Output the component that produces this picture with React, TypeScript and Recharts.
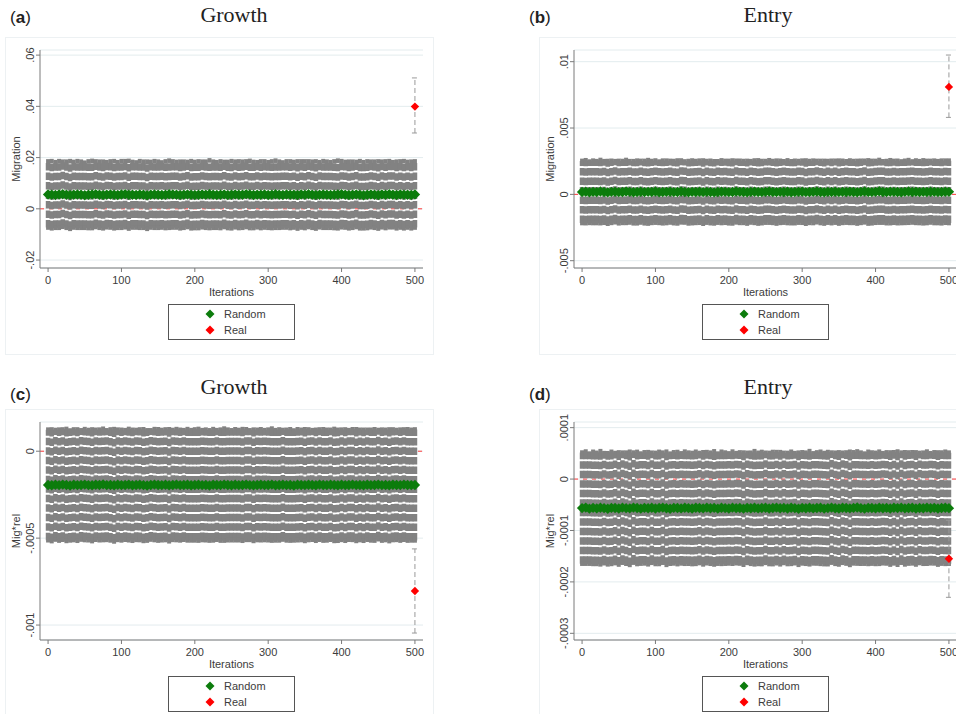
import React from 'react';
import {
  ScatterChart,
  Scatter,
  ErrorBar,
  XAxis,
  YAxis,
  CartesianGrid,
  ReferenceLine,
  Legend,
  Label
} from 'recharts';

// iterations are sampled every 5 draws (501 draws in the original)
const iterations = [
  0, 5, 10, 15, 20, 25, 30, 35, 40, 45, 50, 55, 60, 65, 70, 75, 80, 85, 90, 95,
  100, 105, 110, 115, 120, 125, 130, 135, 140, 145, 150, 155, 160, 165, 170, 175, 180, 185, 190, 195,
  200, 205, 210, 215, 220, 225, 230, 235, 240, 245, 250, 255, 260, 265, 270, 275, 280, 285, 290, 295,
  300, 305, 310, 315, 320, 325, 330, 335, 340, 345, 350, 355, 360, 365, 370, 375, 380, 385, 390, 395,
  400, 405, 410, 415, 420, 425, 430, 435, 440, 445, 450, 455, 460, 465, 470, 475, 480, 485, 490, 495,
  500
];

// (a) Growth - Migration
const growthMigMean = [
  5.6e-3, 5.5e-3, 5.4e-3, 5.6e-3, 5.7e-3, 5.5e-3, 5.4e-3, 5.5e-3, 5.6e-3, 5.5e-3,
  5.3e-3, 5.5e-3, 5.6e-3, 5.7e-3, 5.5e-3, 5.4e-3, 5.5e-3, 5.6e-3, 5.5e-3, 5.4e-3,
  5.6e-3, 5.7e-3, 5.5e-3, 5.5e-3, 5.4e-3, 5.6e-3, 5.5e-3, 5.3e-3, 5.5e-3, 5.6e-3,
  5.5e-3, 5.4e-3, 5.5e-3, 5.7e-3, 5.6e-3, 5.5e-3, 5.4e-3, 5.5e-3, 5.6e-3, 5.5e-3,
  5.4e-3, 5.5e-3, 5.6e-3, 5.5e-3, 5.7e-3, 5.5e-3, 5.4e-3, 5.5e-3, 5.6e-3, 5.4e-3,
  5.5e-3, 5.6e-3, 5.5e-3, 5.5e-3, 5.7e-3, 5.6e-3, 5.4e-3, 5.5e-3, 5.5e-3, 5.6e-3,
  5.4e-3, 5.5e-3, 5.7e-3, 5.5e-3, 5.4e-3, 5.6e-3, 5.5e-3, 5.5e-3, 5.4e-3, 5.6e-3,
  5.5e-3, 5.7e-3, 5.5e-3, 5.4e-3, 5.5e-3, 5.6e-3, 5.5e-3, 5.4e-3, 5.5e-3, 5.6e-3,
  5.7e-3, 5.5e-3, 5.4e-3, 5.5e-3, 5.6e-3, 5.5e-3, 5.3e-3, 5.5e-3, 5.6e-3, 5.5e-3,
  5.4e-3, 5.6e-3, 5.5e-3, 5.7e-3, 5.5e-3, 5.4e-3, 5.6e-3, 5.5e-3, 5.5e-3, 5.4e-3,
  5.6e-3
];
const growthMigHalf = [
  1.29e-2, 1.31e-2, 1.28e-2, 1.30e-2, 1.27e-2, 1.29e-2, 1.32e-2, 1.28e-2, 1.30e-2, 1.29e-2,
  1.27e-2, 1.30e-2, 1.31e-2, 1.28e-2, 1.29e-2, 1.30e-2, 1.27e-2, 1.29e-2, 1.31e-2, 1.28e-2,
  1.30e-2, 1.29e-2, 1.32e-2, 1.28e-2, 1.27e-2, 1.30e-2, 1.29e-2, 1.31e-2, 1.28e-2, 1.30e-2,
  1.29e-2, 1.27e-2, 1.30e-2, 1.31e-2, 1.29e-2, 1.28e-2, 1.30e-2, 1.29e-2, 1.27e-2, 1.31e-2,
  1.29e-2, 1.30e-2, 1.28e-2, 1.29e-2, 1.32e-2, 1.29e-2, 1.28e-2, 1.30e-2, 1.27e-2, 1.29e-2,
  1.31e-2, 1.28e-2, 1.30e-2, 1.29e-2, 1.28e-2, 1.31e-2, 1.29e-2, 1.27e-2, 1.30e-2, 1.29e-2,
  1.28e-2, 1.30e-2, 1.31e-2, 1.29e-2, 1.27e-2, 1.29e-2, 1.30e-2, 1.28e-2, 1.31e-2, 1.29e-2,
  1.30e-2, 1.28e-2, 1.29e-2, 1.31e-2, 1.27e-2, 1.30e-2, 1.29e-2, 1.28e-2, 1.30e-2, 1.32e-2,
  1.29e-2, 1.28e-2, 1.30e-2, 1.29e-2, 1.27e-2, 1.31e-2, 1.29e-2, 1.30e-2, 1.28e-2, 1.29e-2,
  1.31e-2, 1.28e-2, 1.30e-2, 1.29e-2, 1.27e-2, 1.30e-2, 1.29e-2, 1.31e-2, 1.28e-2, 1.30e-2,
  1.29e-2
];
const growthMigReal = 0.0399;
const growthMigRealErr = [0.0103, 0.0112];
const growthMigTicks = [-0.02, 0, 0.02, 0.04, 0.06];
const growthMigTickLabels = ['-.02', '0', '.02', '.04', '.06'];

// (b) Entry - Migration
const entryMigMean = [
  1.8e-4, 2.0e-4, 1.6e-4, 1.9e-4, 1.7e-4, 2.1e-4, 1.8e-4, 1.5e-4, 1.9e-4, 2.0e-4,
  1.7e-4, 1.8e-4, 2.2e-4, 1.9e-4, 1.6e-4, 1.8e-4, 2.0e-4, 1.7e-4, 1.9e-4, 1.8e-4,
  2.1e-4, 1.6e-4, 1.8e-4, 1.9e-4, 2.0e-4, 1.7e-4, 1.8e-4, 2.2e-4, 1.8e-4, 1.6e-4,
  1.9e-4, 1.8e-4, 2.0e-4, 1.7e-4, 1.9e-4, 1.8e-4, 1.5e-4, 1.8e-4, 2.0e-4, 1.9e-4,
  1.7e-4, 1.8e-4, 2.1e-4, 1.9e-4, 1.8e-4, 1.6e-4, 1.9e-4, 2.0e-4, 1.8e-4, 1.7e-4,
  1.9e-4, 2.2e-4, 1.8e-4, 1.7e-4, 1.9e-4, 1.8e-4, 2.0e-4, 1.6e-4, 1.8e-4, 1.9e-4,
  2.0e-4, 1.7e-4, 1.8e-4, 1.9e-4, 2.1e-4, 1.8e-4, 1.6e-4, 1.9e-4, 1.8e-4, 2.0e-4,
  1.7e-4, 1.9e-4, 1.8e-4, 2.0e-4, 1.8e-4, 1.6e-4, 1.9e-4, 2.1e-4, 1.8e-4, 1.7e-4,
  1.9e-4, 2.3e-4, 1.8e-4, 1.7e-4, 2.0e-4, 1.9e-4, 1.8e-4, 1.6e-4, 1.9e-4, 2.2e-4,
  1.8e-4, 2.0e-4, 1.7e-4, 1.9e-4, 1.8e-4, 2.0e-4, 1.9e-4, 1.7e-4, 1.8e-4, 2.0e-4,
  1.9e-4
];
const entryMigHalf = [
  2.34e-3, 2.37e-3, 2.31e-3, 2.35e-3, 2.33e-3, 2.38e-3, 2.32e-3, 2.36e-3, 2.34e-3, 2.30e-3,
  2.35e-3, 2.33e-3, 2.37e-3, 2.31e-3, 2.34e-3, 2.36e-3, 2.32e-3, 2.35e-3, 2.39e-3, 2.33e-3,
  2.34e-3, 2.31e-3, 2.36e-3, 2.35e-3, 2.32e-3, 2.34e-3, 2.37e-3, 2.33e-3, 2.30e-3, 2.35e-3,
  2.36e-3, 2.33e-3, 2.34e-3, 2.38e-3, 2.32e-3, 2.35e-3, 2.34e-3, 2.31e-3, 2.36e-3, 2.33e-3,
  2.35e-3, 2.37e-3, 2.32e-3, 2.34e-3, 2.33e-3, 2.36e-3, 2.31e-3, 2.35e-3, 2.38e-3, 2.34e-3,
  2.32e-3, 2.35e-3, 2.33e-3, 2.37e-3, 2.34e-3, 2.31e-3, 2.36e-3, 2.33e-3, 2.35e-3, 2.32e-3,
  2.34e-3, 2.38e-3, 2.33e-3, 2.35e-3, 2.31e-3, 2.34e-3, 2.36e-3, 2.32e-3, 2.35e-3, 2.33e-3,
  2.37e-3, 2.34e-3, 2.31e-3, 2.35e-3, 2.33e-3, 2.36e-3, 2.34e-3, 2.32e-3, 2.38e-3, 2.35e-3,
  2.33e-3, 2.36e-3, 2.31e-3, 2.34e-3, 2.37e-3, 2.33e-3, 2.35e-3, 2.32e-3, 2.34e-3, 2.36e-3,
  2.30e-3, 2.35e-3, 2.33e-3, 2.37e-3, 2.34e-3, 2.32e-3, 2.35e-3, 2.33e-3, 2.36e-3, 2.34e-3,
  2.35e-3
];
const entryMigReal = 0.0081;
const entryMigRealErr = [0.0023, 0.0024];
const entryMigTicks = [-0.005, 0, 0.005, 0.01];
const entryMigTickLabels = ['-.005', '0', '.005', '.01'];

// (c) Growth - Mig*rel
const growthRelMean = [
  -1.94e-4, -1.96e-4, -1.93e-4, -1.95e-4, -1.92e-4, -1.94e-4, -1.97e-4, -1.93e-4, -1.95e-4, -1.94e-4,
  -1.92e-4, -1.95e-4, -1.96e-4, -1.93e-4, -1.94e-4, -1.91e-4, -1.95e-4, -1.94e-4, -1.96e-4, -1.93e-4,
  -1.95e-4, -1.94e-4, -1.92e-4, -1.96e-4, -1.94e-4, -1.93e-4, -1.95e-4, -1.97e-4, -1.94e-4, -1.92e-4,
  -1.94e-4, -1.95e-4, -1.93e-4, -1.96e-4, -1.94e-4, -1.92e-4, -1.95e-4, -1.94e-4, -1.93e-4, -1.96e-4,
  -1.94e-4, -1.93e-4, -1.95e-4, -1.94e-4, -1.97e-4, -1.93e-4, -1.94e-4, -1.95e-4, -1.92e-4, -1.94e-4,
  -1.96e-4, -1.93e-4, -1.95e-4, -1.94e-4, -1.92e-4, -1.95e-4, -1.96e-4, -1.94e-4, -1.93e-4, -1.95e-4,
  -1.94e-4, -1.92e-4, -1.96e-4, -1.94e-4, -1.93e-4, -1.95e-4, -1.94e-4, -1.97e-4, -1.93e-4, -1.94e-4,
  -1.95e-4, -1.93e-4, -1.94e-4, -1.96e-4, -1.92e-4, -1.94e-4, -1.95e-4, -1.93e-4, -1.94e-4, -1.96e-4,
  -1.93e-4, -1.95e-4, -1.94e-4, -1.92e-4, -1.95e-4, -1.94e-4, -1.96e-4, -1.93e-4, -1.95e-4, -1.94e-4,
  -1.92e-4, -1.95e-4, -1.94e-4, -1.96e-4, -1.93e-4, -1.94e-4, -1.95e-4, -1.92e-4, -1.94e-4, -1.95e-4,
  -1.94e-4
];
const growthRelHalf = [
  3.18e-4, 3.21e-4, 3.15e-4, 3.19e-4, 3.17e-4, 3.22e-4, 3.16e-4, 3.18e-4, 3.20e-4, 3.14e-4,
  3.19e-4, 3.17e-4, 3.21e-4, 3.16e-4, 3.18e-4, 3.20e-4, 3.15e-4, 3.19e-4, 3.23e-4, 3.17e-4,
  3.18e-4, 3.15e-4, 3.20e-4, 3.19e-4, 3.16e-4, 3.18e-4, 3.21e-4, 3.17e-4, 3.14e-4, 3.19e-4,
  3.20e-4, 3.17e-4, 3.18e-4, 3.22e-4, 3.16e-4, 3.19e-4, 3.18e-4, 3.15e-4, 3.20e-4, 3.17e-4,
  3.19e-4, 3.21e-4, 3.16e-4, 3.18e-4, 3.17e-4, 3.20e-4, 3.15e-4, 3.19e-4, 3.22e-4, 3.18e-4,
  3.16e-4, 3.19e-4, 3.17e-4, 3.21e-4, 3.18e-4, 3.15e-4, 3.20e-4, 3.17e-4, 3.19e-4, 3.16e-4,
  3.18e-4, 3.22e-4, 3.17e-4, 3.19e-4, 3.15e-4, 3.18e-4, 3.20e-4, 3.16e-4, 3.19e-4, 3.17e-4,
  3.21e-4, 3.18e-4, 3.15e-4, 3.19e-4, 3.17e-4, 3.20e-4, 3.18e-4, 3.16e-4, 3.22e-4, 3.19e-4,
  3.17e-4, 3.20e-4, 3.15e-4, 3.18e-4, 3.21e-4, 3.17e-4, 3.19e-4, 3.16e-4, 3.18e-4, 3.20e-4,
  3.14e-4, 3.19e-4, 3.17e-4, 3.21e-4, 3.18e-4, 3.16e-4, 3.19e-4, 3.17e-4, 3.20e-4, 3.18e-4,
  3.19e-4
];
const growthRelReal = -0.000804;
const growthRelRealErr = [0.000242, 0.000242];
const growthRelTicks = [-0.001, -0.0005, 0];
const growthRelTickLabels = ['-.001', '-.0005', '0'];

// (d) Entry - Mig*rel
const entryRelMean = [
  -5.65e-5, -5.55e-5, -5.75e-5, -5.60e-5, -5.70e-5, -5.58e-5, -5.66e-5, -5.78e-5, -5.60e-5, -5.64e-5,
  -5.72e-5, -5.56e-5, -5.66e-5, -5.69e-5, -5.55e-5, -5.62e-5, -5.74e-5, -5.60e-5, -5.67e-5, -5.58e-5,
  -5.71e-5, -5.61e-5, -5.56e-5, -5.68e-5, -5.76e-5, -5.60e-5, -5.64e-5, -5.70e-5, -5.57e-5, -5.66e-5,
  -5.73e-5, -5.59e-5, -5.63e-5, -5.69e-5, -5.56e-5, -5.67e-5, -5.61e-5, -5.75e-5, -5.59e-5, -5.65e-5,
  -5.71e-5, -5.56e-5, -5.66e-5, -5.62e-5, -5.75e-5, -5.60e-5, -5.68e-5, -5.58e-5, -5.70e-5, -5.63e-5,
  -5.59e-5, -5.72e-5, -5.64e-5, -5.56e-5, -5.67e-5, -5.61e-5, -5.72e-5, -5.59e-5, -5.66e-5, -5.77e-5,
  -5.60e-5, -5.67e-5, -5.57e-5, -5.70e-5, -5.62e-5, -5.59e-5, -5.74e-5, -5.65e-5, -5.55e-5, -5.68e-5,
  -5.71e-5, -5.58e-5, -5.63e-5, -5.69e-5, -5.60e-5, -5.53e-5, -5.66e-5, -5.75e-5, -5.60e-5, -5.64e-5,
  -5.70e-5, -5.58e-5, -5.67e-5, -5.61e-5, -5.73e-5, -5.59e-5, -5.65e-5, -5.56e-5, -5.69e-5, -5.63e-5,
  -5.59e-5, -5.71e-5, -5.62e-5, -5.67e-5, -5.56e-5, -5.68e-5, -5.60e-5, -5.73e-5, -5.64e-5, -5.59e-5,
  -5.66e-5
];
const entryRelHalf = [
  1.08e-4, 1.09e-4, 1.07e-4, 1.09e-4, 1.08e-4, 1.10e-4, 1.07e-4, 1.08e-4, 1.09e-4, 1.07e-4,
  1.09e-4, 1.07e-4, 1.08e-4, 1.10e-4, 1.07e-4, 1.09e-4, 1.07e-4, 1.08e-4, 1.09e-4, 1.07e-4,
  1.08e-4, 1.09e-4, 1.07e-4, 1.10e-4, 1.07e-4, 1.08e-4, 1.09e-4, 1.07e-4, 1.09e-4, 1.08e-4,
  1.08e-4, 1.09e-4, 1.07e-4, 1.09e-4, 1.08e-4, 1.08e-4, 1.10e-4, 1.07e-4, 1.09e-4, 1.08e-4,
  1.07e-4, 1.09e-4, 1.07e-4, 1.08e-4, 1.09e-4, 1.07e-4, 1.08e-4, 1.10e-4, 1.08e-4, 1.09e-4,
  1.07e-4, 1.08e-4, 1.09e-4, 1.08e-4, 1.09e-4, 1.07e-4, 1.08e-4, 1.09e-4, 1.07e-4, 1.09e-4,
  1.08e-4, 1.08e-4, 1.10e-4, 1.07e-4, 1.08e-4, 1.09e-4, 1.08e-4, 1.09e-4, 1.07e-4, 1.08e-4,
  1.09e-4, 1.07e-4, 1.08e-4, 1.10e-4, 1.08e-4, 1.09e-4, 1.08e-4, 1.07e-4, 1.09e-4, 1.08e-4,
  1.08e-4, 1.09e-4, 1.07e-4, 1.08e-4, 1.09e-4, 1.08e-4, 1.10e-4, 1.07e-4, 1.09e-4, 1.08e-4,
  1.08e-4, 1.09e-4, 1.07e-4, 1.08e-4, 1.09e-4, 1.07e-4, 1.08e-4, 1.09e-4, 1.08e-4, 1.09e-4,
  1.08e-4
];
const entryRelReal = -0.000155;
const entryRelRealErr = [0.000075, 0.000075];
const entryRelTicks = [-0.0003, -0.0002, -0.0001, 0, 0.0001];
const entryRelTickLabels = ['-.0003', '-.0002', '-.0001', '0', '.0001'];

const realIteration = 500;
const xTicks = [0, 100, 200, 300, 400, 500];
const legendNames = ['Random', 'Real'];

const GREEN = '#0c7c0c';
const RED = '#ff0000';
const GRAY = '#828282';
const AXIS = '#7a7a7a';
const TEXT = '#3c3c3c';
const SANS = '"Liberation Sans", Arial, sans-serif';

const diamond = (color: string, r: number) => (props: any) => {
  const { cx, cy } = props;
  return <path d={`M${cx} ${cy - r}L${cx + r} ${cy}L${cx} ${cy + r}L${cx - r} ${cy}Z`} fill={color} />;
};

const renderLegend = () => {
  const colors = [GREEN, RED];
  return (
    <div style={{ position: 'relative', width: 127, height: 36, boxSizing: 'border-box', border: '1px solid #555', background: '#fff', fontSize: 11, color: TEXT, fontFamily: SANS }}>
      {legendNames.map((name, i) => (
        <div key={name} style={{ position: 'absolute', left: 35, top: 2 + i * 16, height: 14, display: 'flex', alignItems: 'center' }}>
          <svg width={12} height={12}>
            <path d="M6 1.5L10.5 6L6 10.5L1.5 6Z" fill={colors[i]} />
          </svg>
          <span style={{ marginLeft: 8 }}>{name}</span>
        </div>
      ))}
    </div>
  );
};

interface PanelProps {
  letter: string;
  title: string;
  yLabel: string;
  left: number;
  top: number;
  labelLeft: number;
  labelTop: number;
  mean: number[];
  half: number[];
  real: number;
  realErr: number[];
  domain: [number, number];
  ticks: number[];
  tickLabels: string[];
}

const Panel = (p: PanelProps) => {
  const randomRows = iterations.map((it, i) => ({ it, y: p.mean[i], err: p.half[i] }));
  const realRows = [{ it: realIteration, y: p.real, err: p.realErr }];

  const rotatedTick = (props: any) => {
    const { x, y, payload } = props;
    const label = p.tickLabels[p.ticks.indexOf(payload.value)];
    return (
      <text x={x} y={y} transform={`rotate(-90 ${x} ${y})`} textAnchor="middle" fontSize={11} fill={TEXT}>
        {label}
      </text>
    );
  };

  const yTitle = (props: any) => {
    const vb = props.viewBox;
    const x = vb.x + 20;
    const y = vb.y + vb.height / 2;
    return (
      <text x={x} y={y} transform={`rotate(-90 ${x} ${y})`} textAnchor="middle" fontSize={11} fill={TEXT}>
        {p.yLabel}
      </text>
    );
  };

  return (
    <div style={{ position: 'absolute', left: p.left, top: p.top, width: 470, height: 360 }}>
      <div style={{ position: 'absolute', left: 5, top: 37, width: 427, height: 316, border: '1px solid #edf1f3' }} />
      <div style={{ position: 'absolute', left: p.labelLeft, top: p.labelTop, fontFamily: SANS, fontSize: 17, lineHeight: '18px', color: '#222' }}>
        (<b>{p.letter}</b>)
      </div>
      <div style={{ position: 'absolute', left: 0, top: 3, width: 468, textAlign: 'center', fontFamily: '"Liberation Serif", "Times New Roman", serif', fontSize: 22, lineHeight: '24px', color: '#222' }}>
        {p.title}
      </div>
      <div style={{ position: 'absolute', left: 0, top: 37, fontFamily: SANS }}>
        <ScatterChart width={440} height={316} margin={{ top: 13, right: 17, bottom: 13, left: 0 }}>
          <CartesianGrid horizontal vertical={false} stroke="#e3ecee" />
          <XAxis
            type="number"
            dataKey="it"
            domain={[-11, 511]}
            ticks={xTicks}
            interval={0}
            allowDataOverflow
            height={36}
            tickSize={4}
            tickMargin={4}
            axisLine={{ stroke: AXIS }}
            tickLine={{ stroke: AXIS }}
            tick={{ fontSize: 11, fill: TEXT }}
          >
            <Label value="Iterations" position="insideBottom" offset={8} fontSize={11} fill={TEXT} />
          </XAxis>
          <YAxis
            type="number"
            domain={p.domain}
            ticks={p.ticks}
            interval={0}
            allowDataOverflow
            width={40}
            tickSize={4}
            tickMargin={2}
            axisLine={{ stroke: AXIS }}
            tickLine={{ stroke: AXIS }}
            tick={rotatedTick}
          >
            <Label content={yTitle} />
          </YAxis>
          <ReferenceLine y={0} stroke="#ff3b3b" strokeDasharray="4 5" strokeWidth={1} />
          <Scatter data={randomRows} dataKey="y" shape={diamond(GREEN, 5.2)} isAnimationActive={false}>
            <ErrorBar dataKey="err" direction="y" width={2} stroke={GRAY} strokeWidth={4.6} strokeDasharray="7.5 2" isAnimationActive={false} />
          </Scatter>
          <Scatter data={realRows} dataKey="y" shape={diamond(RED, 4.2)} isAnimationActive={false}>
            <ErrorBar dataKey="err" direction="y" width={3} stroke="#999" strokeWidth={1} strokeDasharray="5 3" isAnimationActive={false} />
          </Scatter>
          <Legend verticalAlign="bottom" align="center" content={renderLegend} wrapperStyle={{ left: 168, width: 127, height: 36 }} />
        </ScatterChart>
      </div>
    </div>
  );
};

export default function App() {
  return (
    <div style={{ position: 'absolute', left: 0, top: 0, width: 956, height: 714, overflow: 'hidden', background: '#fff' }}>
      <Panel letter="a" title="Growth" yLabel="Migration" left={0} top={0} labelLeft={10} labelTop={9}
        mean={growthMigMean} half={growthMigHalf} real={growthMigReal} realErr={growthMigRealErr}
        domain={[-0.0231, 0.062]} ticks={growthMigTicks} tickLabels={growthMigTickLabels} />
      <Panel letter="b" title="Entry" yLabel="Migration" left={534} top={0} labelLeft={-5} labelTop={9}
        mean={entryMigMean} half={entryMigHalf} real={entryMigReal} realErr={entryMigRealErr}
        domain={[-0.00555, 0.01088]} ticks={entryMigTicks} tickLabels={entryMigTickLabels} />
      <Panel letter="c" title="Growth" yLabel="Mig*rel" left={0} top={372} labelLeft={10} labelTop={14}
        mean={growthRelMean} half={growthRelHalf} real={growthRelReal} realErr={growthRelRealErr}
        domain={[-0.001086, 0.000168]} ticks={growthRelTicks} tickLabels={growthRelTickLabels} />
      <Panel letter="d" title="Entry" yLabel="Mig*rel" left={534} top={372} labelLeft={-5} labelTop={14}
        mean={entryRelMean} half={entryRelHalf} real={entryRelReal} realErr={entryRelRealErr}
        domain={[-0.000313, 0.000111]} ticks={entryRelTicks} tickLabels={entryRelTickLabels} />
    </div>
  );
}
